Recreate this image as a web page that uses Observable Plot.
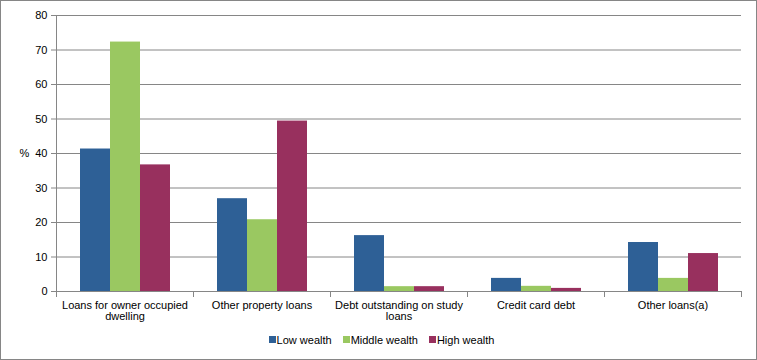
<!DOCTYPE html>
<html><head><meta charset="utf-8">
<script src="https://cdn.jsdelivr.net/npm/d3@7"></script>
<script src="https://cdn.jsdelivr.net/npm/@observablehq/plot@0.6"></script>
<style>
body{margin:0;background:#fff}
#chart{position:relative;width:757px;height:360px;box-sizing:border-box;border:1px solid #868686;font-family:"Liberation Sans",Arial,sans-serif;color:#000;background:#fff;overflow:hidden}
#legend{display:flex;justify-content:center;margin-top:-2px;padding-left:6px}
#legend [class$="-swatch"]{margin-right:11px !important;font-size:11px}
#legend [class$="-swatch"]:last-child{margin-right:0 !important}
#legend [class$="-swatch"] > svg{margin-right:1px !important}
</style></head><body><div id="chart"></div>
<script>
const categories = ["Loans for owner occupied dwelling","Other property loans","Debt outstanding on study loans","Credit card debt","Other loans(a)"];
const tickLabels = ["Loans for owner occupied\ndwelling","Other property loans","Debt outstanding on study\nloans","Credit card debt","Other loans(a)"];
const series = ["Low wealth","Middle wealth","High wealth"];
const lowWealth = [41.3,26.9,16.2,3.8,14.2];
const middleWealth = [72.3,20.8,1.4,1.5,3.8];
const highWealth = [36.7,49.4,1.4,0.9,11.0];
const colors = ["#2e6096","#9ac861","#98305e"];
const yTicks = [0,10,20,30,40,50,60,70,80];

const valuesBySeries = [lowWealth, middleWealth, highWealth];
const data = [];
categories.forEach((c, i) => series.forEach((s, j) => data.push({category: c, series: s, value: valuesBySeries[j][i]})));

const W = 755, H = 324, mL = 54, mR = 15, mT = 14, mB = 34;
const innerH = H - mT - mB;
const grey = "#868686";

const chart = Plot.plot({
  width: W, height: H,
  marginLeft: mL, marginRight: mR, marginTop: mT, marginBottom: mB,
  style: {fontFamily: '"Liberation Sans", Arial, sans-serif', fontSize: "11px", color: "#000", background: "#fff"},
  fx: {domain: categories, paddingInner: 0, paddingOuter: 0, label: null},
  x: {domain: series, paddingInner: 0, paddingOuter: 0.73, axis: null},
  y: {domain: [0, 80], label: null},
  color: {domain: series, range: colors},
  marks: [
    Plot.gridY(yTicks, {stroke: grey, strokeOpacity: 1}),
    Plot.barY(data, {fx: "category", x: "series", y: "value", fill: "series"}),
    Plot.axisY(yTicks, {tickSize: 5, tickPadding: 4, stroke: grey, strokeOpacity: 1, label: null, fontSize: 11}),
    Plot.axisFx({anchor: "bottom", tickSize: 0, tickPadding: 10, label: null, fontSize: 11, lineHeight: 1,
      tickFormat: d => tickLabels[categories.indexOf(d)]}),
    Plot.frame({anchor: "left", stroke: grey, insetTop: innerH, insetBottom: -5}),
    Plot.frame({anchor: "right", stroke: grey, insetTop: innerH, insetBottom: -5}),
    Plot.frame({anchor: "bottom", stroke: grey}),
    Plot.frame({anchor: "left", stroke: grey, facet: "super"}),
    Plot.text(["%"], {fx: () => categories[0], frameAnchor: "left", textAnchor: "middle", dx: -32, fontSize: 11, text: d => d})
  ]
});
document.getElementById("chart").appendChild(chart);

const legend = Plot.legend({color: {domain: series, range: colors}, swatchSize: 7, style: {fontFamily: '"Liberation Sans", Arial, sans-serif', fontSize: "11px"}});
const lg = document.createElement("div");
lg.id = "legend";
lg.appendChild(legend);
document.getElementById("chart").appendChild(lg);
</script></body></html>
